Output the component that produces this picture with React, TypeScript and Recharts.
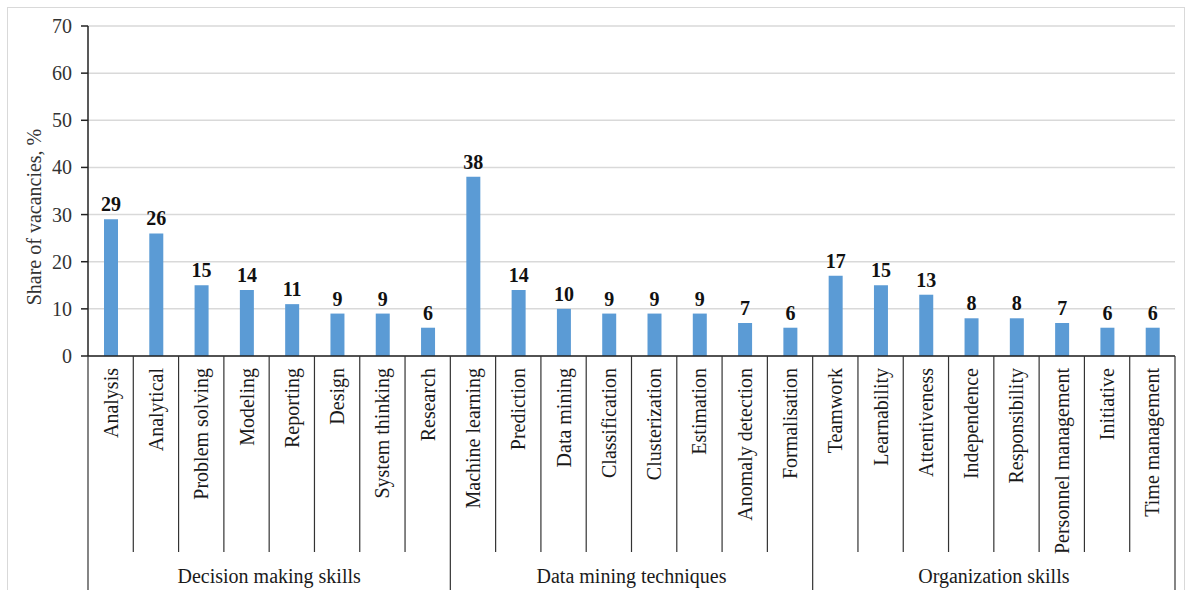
import React from 'react';
import { BarChart, Bar, XAxis, YAxis, CartesianGrid, LabelList } from 'recharts';

const categories = [
  'Analysis', 'Analytical', 'Problem solving', 'Modeling', 'Reporting', 'Design', 'System thinking', 'Research',
  'Machine learning', 'Prediction', 'Data mining', 'Classification', 'Clusterization', 'Estimation', 'Anomaly detection', 'Formalisation',
  'Teamwork', 'Learnability', 'Attentiveness', 'Independence', 'Responsibility', 'Personnel management', 'Initiative', 'Time management',
];
const values = [
  29, 26, 15, 14, 11, 9, 9, 6,
  38, 14, 10, 9, 9, 9, 7, 6,
  17, 15, 13, 8, 8, 7, 6, 6,
];
const groups = ['Decision making skills', 'Data mining techniques', 'Organization skills'];
const groupSizes = [8, 8, 8];
const yTicks = [0, 10, 20, 30, 40, 50, 60, 70];
const yLabel = 'Share of vacancies, %';

const data = categories.map((name, i) => ({ name, value: values[i] }));

const FONT = '"Liberation Serif", "Times New Roman", Times, serif';
const FS = 20;
const W = 1187;
const H = 590;
const MARGIN = { top: 26, right: 12, bottom: 0, left: 0 };
const Y_WIDTH = 88;
const X_HEIGHT = 234;

const groupStarts: number[] = [];
{
  let acc = 0;
  for (const s of groupSizes) {
    groupStarts.push(acc);
    acc += s;
  }
}

function CategoryTick(props: any) {
  const { x, y, payload } = props;
  const index: number = payload?.index ?? props.index ?? 0;
  const count: number = props.visibleTicksCount || categories.length;
  const plotW = W - MARGIN.left - MARGIN.right - Y_WIDTH;
  const band = (props.width && props.width > 100 ? props.width : plotW) / count;
  const left = x - band / 2;
  const shortLen = 196;
  const longLen = 240;
  const isGroupStart = groupStarts.indexOf(index) >= 0;
  const isLast = index === categories.length - 1;
  let groupLabel: React.ReactNode = null;
  groupStarts.forEach((s, g) => {
    const mid = s + Math.floor(groupSizes[g] / 2);
    if (index === mid) {
      const cx = groupSizes[g] % 2 === 0 ? left : x;
      groupLabel = (
        <text x={cx} y={y + 220} textAnchor="middle" dominantBaseline="central" fontSize={FS} fontFamily={FONT} fill="#1a1a1a">
          {groups[g]}
        </text>
      );
    }
  });
  const ty = y + 12;
  return (
    <g>
      <line x1={left} x2={left} y1={y} y2={y + (isGroupStart ? longLen : shortLen)} stroke="#333" strokeWidth={1.2} />
      {isLast && <line x1={left + band} x2={left + band} y1={y} y2={y + longLen} stroke="#333" strokeWidth={1.2} />}
      <text
        x={x}
        y={ty}
        transform={`rotate(-90 ${x} ${ty})`}
        textAnchor="end"
        dominantBaseline="central"
        fontSize={FS}
        fontFamily={FONT}
        fill="#1a1a1a"
      >
        {payload.value}
      </text>
      {groupLabel}
    </g>
  );
}

function ValueTick(props: any) {
  const { x, y, payload } = props;
  return (
    <text x={x} y={y} textAnchor="end" dominantBaseline="central" fontSize={FS} fontFamily={FONT} fill="#333">
      {payload.value}
    </text>
  );
}

function YLabel() {
  return (
    <text
      x={34}
      y={217}
      transform="rotate(-90 34 217)"
      textAnchor="middle"
      dominantBaseline="central"
      fontSize={FS}
      fontFamily={FONT}
      fill="#333"
    >
      {yLabel}
    </text>
  );
}

function ValueLabel(props: any) {
  const { x, y, width, value } = props;
  return (
    <text
      x={x + width / 2}
      y={y - 8}
      textAnchor="middle"
      fontSize={FS}
      fontWeight="bold"
      fontFamily={FONT}
      fill="#111"
    >
      {value}
    </text>
  );
}

export default function App() {
  return (
    <div style={{ position: 'absolute', left: 0, top: 0, width: W, height: H, background: '#fff', overflow: 'hidden' }}>
      <div
        style={{
          position: 'absolute',
          left: 7,
          top: 7,
          width: 1178,
          height: 600,
          borderTop: '1px solid #d9d9d9',
          borderLeft: '1px solid #d9d9d9',
          borderRight: '1px solid #d9d9d9',
          boxSizing: 'border-box',
        }}
      />
      <div style={{ position: 'absolute', left: 0, top: 0 }}>
        <BarChart width={W} height={H} data={data} margin={MARGIN} barSize={14}>
          <CartesianGrid vertical={false} stroke="#d9d9d9" strokeWidth={1.5} />
          <XAxis
            dataKey="name"
            height={X_HEIGHT}
            interval={0}
            tickLine={false}
            tickSize={0}
            tickMargin={0}
            axisLine={{ stroke: '#222', strokeWidth: 1.5 }}
            tick={(p: any) => <CategoryTick {...p} />}
          />
          <YAxis
            width={Y_WIDTH}
            domain={[0, 70]}
            ticks={yTicks}
            interval={0}
            tickSize={7}
            tickMargin={9}
            axisLine={{ stroke: '#222', strokeWidth: 1.5 }}
            tickLine={{ stroke: '#222', strokeWidth: 1.5 }}
            tick={(p: any) => <ValueTick {...p} />}
            label={<YLabel />}
          />
          <Bar dataKey="value" fill="#5B9BD5" isAnimationActive={false}>
            <LabelList dataKey="value" content={(p: any) => <ValueLabel {...p} />} />
          </Bar>
        </BarChart>
      </div>
    </div>
  );
}
